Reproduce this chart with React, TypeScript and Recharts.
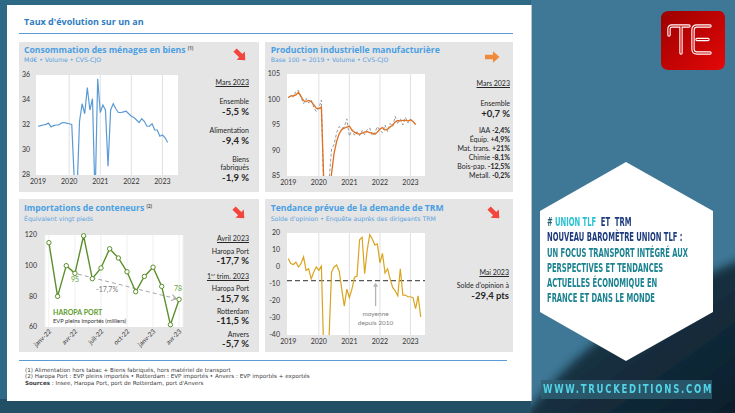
import React from "react";
import {
  LineChart,
  Line,
  XAxis,
  YAxis,
  CartesianGrid,
  ReferenceLine,
  ReferenceDot,
} from "recharts";

const W = 735;
const H = 413;
const FONT = 'Lato, "Open Sans", sans-serif';
const HEAD = '"Open Sans", Lato, sans-serif';
const WIDE = '"DejaVu Sans", Verdana, sans-serif';
const NARROW = '"Liberation Sans Narrow", "DejaVu Sans Condensed", sans-serif';

// ---------- data ----------
const yearLabels = ["2019", "2020", "2021", "2022", "2023"];
const yearTicks = [0, 12, 24, 36, 48];

// Consommation des ménages en biens, Md€, monthly from janv. 2019 to mars 2023
const consoValues = [
  31.9, 31.95, 32.0, 32.05, 32.15, 31.85, 31.95, 32.0, 32.0, 32.15, 32.2, 32.15,
  32.1, 32.05, 27.5, 26.5, 32.3, 33.7, 32.9, 35.0, 33.2, 34.1, 26.0, 35.7,
  33.0, 33.6, 33.2, 28.7, 33.2, 33.7, 33.3, 33.0, 33.0, 33.05, 33.1, 32.9,
  32.7, 32.6, 32.4, 32.2, 32.5, 32.3, 31.9, 31.9, 32.1, 31.6, 31.6, 31.1,
  31.2, 31.0, 30.6,
];

// Production industrielle manufacturière, base 100 = 2019
const prodValues = [
  100.4, 100.7, 100.7, 100.9, 101.4, 100.6, 99.8, 99.6, 99.8, 99.6, 99.0, 98.3,
  98.2, 98.5, 83, 70, 80, 85.5, 89.5, 91.8, 93.3, 94.1, 94.4, 94.6,
  94.8, 94.0, 93.6, 93.3, 93.2, 93.4, 93.6, 93.7, 93.5, 93.4, 93.2, 93.6,
  94.2, 94.5, 94.0, 94.2, 94.6, 95.0, 95.6, 95.9, 95.8, 95.9, 95.9, 95.8,
  96.0, 95.7, 95.1,
];
const prodRawValues = [
  100.3, 100.9, 100.5, 101.6, 101.8, 100.4, 99.2, 100.2, 99.3, 99.9, 98.5, 97.6,
  98.3, 99.9, 80, 68, 84, 90.3, 91.2, 93.5, 94.7, 94.3, 94.6, 96.2,
  92.8, 94.1, 93.0, 93.7, 92.9, 93.9, 93.1, 94.1, 94.4, 92.9, 93.5, 94.7,
  93.9, 93.5, 95.0, 93.7, 95.3, 94.7, 96.7, 95.2, 96.3, 95.0, 96.5, 95.4,
  96.2, 95.7, 95.0,
];

// Tendance prévue de la demande de TRM, solde d'opinion, janv. 2019 to mai 2023
const trmValues = [
  5, 2, 1.5, 2.8, 0, 2, 6, -2, -1, -7, -3, 0,
  -2, 0.5, -55, -70, -42, -3, 0, 1.2, -2.5, -13, -23, -13,
  -18, -13, -6, -5.5, 16, 17.5, -4, 10, 19, 16.5, 13, 13.5,
  2.5, 8, -3.5, -1, -7, -12, -14, -17, -1, -16.5, -16.5, -17.5,
  -17.5, -18, -24.5, -17, -29.4,
];
const trmAverage = -8;

// Importations de conteneurs, Haropa Port, EVP pleins importés (milliers)
const portMonths = [
  "janv-22", "févr-22", "mars-22", "avr-22", "mai-22", "juin-22", "juil-22", "août-22",
  "sept-22", "oct-22", "nov-22", "déc-22", "janv-23", "févr-23", "mars-23", "avr-23",
];
const portValues = [115, 80, 100, 95, 119.5, 91.5, 98.5, 111, 105, 96, 83, 93, 99, 86.5, 61.5, 78];
const portTicks = [0, 3, 6, 9, 12, 15];

const prodBreakdown = [
  ["IAA", "-2,4%"],
  ["Équip.", "+4,9%"],
  ["Mat. trans.", "+21%"],
  ["Chimie", "-8,1%"],
  ["Bois-pap.", "-12,5%"],
  ["Metall.", "-0,2%"],
];

const consoData = consoValues.map((v, i) => ({ m: i, v }));
const prodData = prodValues.map((v, i) => ({ m: i, v, raw: prodRawValues[i] }));
const trmData = trmValues.map((v, i) => ({ m: i, v }));
const portData = portValues.map((v, i) => ({ i, v }));

const tickStyle = { fontSize: 7, fill: "#333", fontFamily: FONT };

function Txt({ x, y, size = 7, bold = false, color = "#262626", right = false, underline = false, family = FONT, lh = 1.15, children, style = {} }: any) {
  const pos: any = right ? { right: W - x } : { left: x };
  return (
    <div
      style={{
        position: "absolute",
        top: y - (size * lh) / 2,
        ...pos,
        fontSize: size,
        lineHeight: `${size * lh}px`,
        fontWeight: bold ? 700 : 400,
        color,
        whiteSpace: "nowrap",
        textDecoration: underline ? "underline" : "none",
        fontFamily: family,
        ...style,
      }}
    >
      {children}
    </div>
  );
}

function Arrow({ cx, cy, angle, color }: any) {
  return (
    <svg style={{ position: "absolute", left: cx - 10, top: cy - 10 }} width={20} height={20}>
      <path
        d="M-7,-2.3 L1,-2.3 L1,-5.8 L7.5,0 L1,5.8 L1,2.3 L-7,2.3 Z"
        fill={color}
        transform={`translate(10,10) rotate(${angle})`}
      />
    </svg>
  );
}

function Box({ x, y, w, h }: any) {
  return <div style={{ position: "absolute", left: x, top: y, width: w, height: h, background: "#e5e5e5" }} />;
}

const PortTick = (props: any) => {
  const { x, y, payload } = props;
  return (
    <g transform={`translate(${x},${y})`}>
      <text x={0} y={0} dy={4} textAnchor="end" transform="rotate(-45)" fontSize={6.5} fill="#333" fontFamily={FONT}>
        {portMonths[payload.value]}
      </text>
    </g>
  );
};

function yearGrid() {
  return yearTicks.slice(1).map((t) => (
    <ReferenceLine key={t} x={t} stroke="#d9d9d9" strokeWidth={0.8} />
  ));
}

function ConsoChart() {
  return (
    <div style={{ position: "absolute", left: 11, top: 70 }}>
      <LineChart width={173} height={120} data={consoData} margin={{ top: 5, right: 6, left: 0, bottom: 0 }}>
        <CartesianGrid horizontal={false} vertical={false} fill="#fff" />
        <XAxis dataKey="m" type="number" domain={[-0.8, 54]} ticks={yearTicks} tickFormatter={(v) => yearLabels[v / 12]}
          allowDataOverflow axisLine={false} tickLine={false} tickSize={0} tickMargin={4} height={15} tick={tickStyle} />
        <YAxis domain={[28, 36]} ticks={[28, 30, 32, 34, 36]} allowDataOverflow width={25}
          axisLine={false} tickLine={false} tickSize={0} tickMargin={6} tick={tickStyle} />
        {yearGrid()}
        <Line dataKey="v" stroke="#5b9bd5" strokeWidth={1.2} dot={false} isAnimationActive={false} />
      </LineChart>
    </div>
  );
}

function ProdChart() {
  return (
    <div style={{ position: "absolute", left: 262, top: 69 }}>
      <LineChart width={163} height={122} data={prodData} margin={{ top: 5, right: 0, left: 0, bottom: 0 }}>
        <CartesianGrid horizontal={false} vertical={false} fill="#fff" />
        <XAxis dataKey="m" type="number" domain={[-0.5, 53.7]} ticks={yearTicks} tickFormatter={(v) => yearLabels[v / 12]}
          allowDataOverflow axisLine={false} tickLine={false} tickSize={0} tickMargin={4} height={15} tick={tickStyle} />
        <YAxis domain={[85, 105]} ticks={[85, 90, 95, 100, 105]} allowDataOverflow width={25}
          axisLine={false} tickLine={false} tickSize={0} tickMargin={7} tick={tickStyle} />
        {yearGrid()}
        <Line dataKey="raw" stroke="#9a9a9a" strokeWidth={1} strokeDasharray="3 2" dot={false} isAnimationActive={false} />
        <Line dataKey="v" stroke="#e06f1f" strokeWidth={1.3} dot={false} isAnimationActive={false} />
      </LineChart>
    </div>
  );
}

function TrmChart() {
  return (
    <div style={{ position: "absolute", left: 262, top: 228 }}>
      <LineChart width={163} height={122} data={trmData} margin={{ top: 5, right: 0, left: 0, bottom: 0 }}>
        <CartesianGrid horizontal={false} vertical={false} fill="#fff" />
        <XAxis dataKey="m" type="number" domain={[-0.5, 53.7]} ticks={yearTicks} tickFormatter={(v) => yearLabels[v / 12]}
          allowDataOverflow axisLine={false} tickLine={false} tickSize={0} tickMargin={4} height={15} tick={tickStyle} />
        <YAxis domain={[-40, 20]} ticks={[-40, -30, -20, -10, 0, 10, 20]} allowDataOverflow width={25}
          axisLine={false} tickLine={false} tickSize={0} tickMargin={7} tick={tickStyle} />
        {yearGrid()}
        <ReferenceLine y={trmAverage} stroke="#595959" strokeDasharray="5 3" strokeWidth={1.2} />
        <ReferenceLine segment={[{ x: 34.3, y: -23 }, { x: 34.3, y: -10 }]} stroke="#b3b3b3" strokeWidth={1.3} />
        <ReferenceDot x={34.3} y={-9.2} r={0} shape={(p: any) => (
          <path d={`M${p.cx - 2.5},${p.cy + 4} L${p.cx},${p.cy} L${p.cx + 2.5},${p.cy + 4} Z`} fill="#b3b3b3" />
        )} />
        <ReferenceDot x={34.3} y={-27.6} r={0} shape={(p: any) => (
          <text x={p.cx} y={p.cy} dy={2.3} textAnchor="middle" fontSize={6.5} fill="#7f7f7f" fontFamily={FONT}>moyenne</text>
        )} />
        <ReferenceDot x={34.3} y={-32.6} r={0} shape={(p: any) => (
          <text x={p.cx} y={p.cy} dy={2.3} textAnchor="middle" fontSize={6.5} fill="#7f7f7f" fontFamily={FONT}>depuis 2010</text>
        )} />
        <Line dataKey="v" stroke="#d9a520" strokeWidth={1.2} dot={false} isAnimationActive={false} />
      </LineChart>
    </div>
  );
}

function PortChart() {
  return (
    <div style={{ position: "absolute", left: 20, top: 230 }}>
      <LineChart width={168} height={122} data={portData} margin={{ top: 5, right: 5, left: 0, bottom: 0 }}>
        <CartesianGrid horizontal={false} stroke="#efefef" fill="#fff" />
        <XAxis dataKey="i" type="number" domain={[-0.45, 15.45]} ticks={portTicks} interval={0}
          axisLine={false} tickLine={false} tickSize={0} tickMargin={2} height={25} tick={<PortTick />} />
        <YAxis domain={[60, 120]} ticks={[60, 80, 100, 120]} width={25}
          axisLine={false} tickLine={false} tickSize={0} tickMargin={8} tick={tickStyle} />
        <ReferenceLine segment={[{ x: 3.35, y: 94.5 }, { x: 14.7, y: 78.4 }]} stroke="#a6a6a6" strokeDasharray="4 3" strokeWidth={1} />
        <ReferenceDot x={14.7} y={78.4} r={0} shape={(p: any) => (
          <polyline points="-5,-3 0,0 -5,3" transform={`translate(${p.cx},${p.cy}) rotate(14)`} fill="none" stroke="#a6a6a6" strokeWidth={1} />
        )} />
        <ReferenceDot x={6.7} y={84.1} r={0} shape={(p: any) => (
          <text x={p.cx} y={p.cy} dy={2.4} textAnchor="middle" fontSize={7} fill="#7a7a7a" fontFamily={FONT}>-17,7%</text>
        )} />
        <Line dataKey="v" stroke="#5b8f2a" strokeWidth={1.4} isAnimationActive={false}
          dot={{ r: 2.2, fill: "#fff", stroke: "#5b8f2a", strokeWidth: 1 }} />
        <ReferenceDot x={3} y={portValues[3]} r={0} shape={(p: any) => (
          <text x={p.cx} y={p.cy} dy={9} textAnchor="middle" fontSize={7} fill="#6aa33a" fontFamily={FONT}>{portValues[3]}</text>
        )} />
        <ReferenceDot x={15} y={portValues[15]} r={0} shape={(p: any) => (
          <text x={p.cx - 1} y={p.cy} dy={-8} textAnchor="middle" fontSize={7} fill="#6aa33a" fontFamily={FONT}>{portValues[15]}</text>
        )} />
      </LineChart>
    </div>
  );
}

function Background() {
  return (
    <svg style={{ position: "absolute", left: 0, top: 0 }} width={W} height={H}>
      <defs>
        <linearGradient id="wave" x1="0" y1="0" x2="1" y2="1">
          <stop offset="0" stopColor="#1f4358" />
          <stop offset="1" stopColor="#0b1c28" />
        </linearGradient>
        <linearGradient id="logo" x1="0" y1="0" x2="1" y2="1">
          <stop offset="0" stopColor="#9c0000" />
          <stop offset="1" stopColor="#e40808" />
        </linearGradient>
        <filter id="blur"><feGaussianBlur stdDeviation="5" /></filter>
      </defs>
      <rect x={0} y={0} width={W} height={H} fill="#3f7896" />
      <rect x={0} y={0} width={531} height={H} fill="#2d6884" />
      <path d="M520,420 C575,350 640,300 745,258 L745,420 Z" fill="url(#wave)" filter="url(#blur)" />
      <rect x={0} y={399} width={531} height={14} fill="#234f66" />
      <polygon points="626,162 713,211 713,312 626,361 540,312 540,211" fill="#fff" />
      <rect x={541} y={380} width={171} height={19} fill="#2f6274" opacity={0.8} />
      <path d="M669,11 L719,11 Q725,11 725,19 L725,62 Q725,70 717,70 L669,70 Q661,70 661,62 L661,19 Q661,11 669,11 Z" fill="url(#logo)" />
      <g fill="none" strokeLinecap="round" strokeLinejoin="round">
        <path d="M669,35 L669,29 Q669,26 672,26 L689,26 M681,26 L681,53 M710,26 L697,26 Q693,26 693,30 L693,49 Q693,53 697,53 L710,53 M697,39.5 L708,39.5"
          stroke="#fff" strokeWidth={3.4} />
        <path d="M669,35 L669,29 Q669,26 672,26 L689,26 M681,26 L681,53 M710,26 L697,26 Q693,26 693,30 L693,49 Q693,53 697,53 L710,53 M697,39.5 L708,39.5"
          stroke="#c80000" strokeWidth={1.2} />
      </g>
    </svg>
  );
}

const hexLine = (y: number, content: any) => (
  <div style={{
    position: "absolute", left: 547, top: y - 7, lineHeight: "14px", fontSize: 13, fontWeight: 700,
    fontFamily: NARROW, whiteSpace: "nowrap", transform: "scaleX(0.58)", transformOrigin: "left center",
  }}>{content}</div>
);

const sup = { fontSize: 4.5, color: "#555", verticalAlign: 3, lineHeight: 0 };

export default function App() {
  return (
    <div style={{ position: "absolute", left: 0, top: 0, width: W, height: H, overflow: "hidden", fontFamily: FONT }}>
      <Background />
      <div style={{ position: "absolute", left: 7, top: 5, width: 524, height: 396, background: "#fff", borderRight: "1px solid #b9c4ca" }} />

      <Txt x={24} y={22} size={9} bold color="#2f7cc1" family={HEAD}>Taux d'évolution sur un an</Txt>
      <div style={{ position: "absolute", left: 19, top: 32.5, width: 494, height: 1.5, background: "#5b9bd5" }} />

      <Box x={19} y={42} w={240} h={150} />
      <Box x={265} y={42} w={248} h={150} />
      <Box x={19} y={199} w={240} h={153} />
      <Box x={265} y={199} w={248} h={153} />

      {/* panel 1 */}
      <Txt x={24} y={50.3} size={8.6} bold color="#4a9fe3" family={HEAD} lh={1}>
        Consommation des ménages en biens <span style={sup}>(1)</span>
      </Txt>
      <Txt x={24} y={60.5} size={6.2} color="#5ba3e0" family={WIDE} lh={1}>Md€ • Volume • CVS-CJO</Txt>
      <Arrow cx={240} cy={55} angle={45} color="#f2453d" />
      <ConsoChart />
      <Txt x={249} y={82} right underline>Mars 2023</Txt>
      <Txt x={249} y={100.7} right>Ensemble</Txt>
      <Txt x={249} y={111.7} right bold size={9.5} lh={1}>-5,5 %</Txt>
      <Txt x={249} y={130} right>Alimentation</Txt>
      <Txt x={249} y={140.3} right bold size={9.5} lh={1}>-9,4 %</Txt>
      <Txt x={249} y={159} right lh={1}>Biens</Txt>
      <Txt x={249} y={167.3} right lh={1}>fabriqués</Txt>
      <Txt x={249} y={177.7} right bold size={9.5} lh={1}>-1,9 %</Txt>

      {/* panel 2 */}
      <Txt x={270.7} y={50.3} size={8.6} bold color="#4a9fe3" family={HEAD} lh={1}>Production industrielle manufacturière</Txt>
      <Txt x={270.7} y={60.5} size={6.2} color="#5ba3e0" family={WIDE} lh={1}>Base 100 = 2019 • Volume • CVS-CJO</Txt>
      <Arrow cx={492} cy={57} angle={0} color="#f08a3a" />
      <ProdChart />
      <Txt x={510} y={83.3} right underline>Mars 2023</Txt>
      <Txt x={510} y={103.3} right>Ensemble</Txt>
      <Txt x={510} y={113.5} right bold size={9.5} lh={1}>+0,7 %</Txt>
      {prodBreakdown.map(([k, v], i) => (
        <Txt key={k} x={510} y={131 + i * 9} right lh={1.1}>
          {k} <b>{v}</b>
        </Txt>
      ))}

      {/* panel 3 */}
      <Txt x={24} y={208.3} size={8.6} bold color="#4a9fe3" family={HEAD} lh={1}>
        Importations de conteneurs <span style={sup}>(2)</span>
      </Txt>
      <Txt x={24} y={219.2} size={6.2} color="#5ba3e0" family={WIDE} lh={1}>Équivalent vingt pieds</Txt>
      <Arrow cx={239} cy={213} angle={45} color="#f2453d" />
      <PortChart />
      <Txt x={53} y={312} size={7} bold color="#5e9d2e" lh={1}>HAROPA PORT</Txt>
      <Txt x={53} y={320.5} size={5.8} color="#333" lh={1}>EVP pleins importés (milliers)</Txt>
      <Txt x={249} y={238.3} right underline>Avril 2023</Txt>
      <Txt x={249} y={250.7} right>Haropa Port</Txt>
      <Txt x={249} y={260.7} right bold size={9.5} lh={1}>-17,7 %</Txt>
      <Txt x={249} y={276} right underline>1<sup style={{ fontSize: 4.5, lineHeight: 0 }}>er</sup> trim. 2023</Txt>
      <Txt x={249} y={288.3} right>Haropa Port</Txt>
      <Txt x={249} y={298.3} right bold size={9.5} lh={1}>-15,7 %</Txt>
      <Txt x={249} y={310.7} right>Rotterdam</Txt>
      <Txt x={249} y={320.5} right bold size={9.5} lh={1}>-11,5 %</Txt>
      <Txt x={249} y={334} right>Anvers</Txt>
      <Txt x={249} y={344} right bold size={9.5} lh={1}>-5,7 %</Txt>

      {/* panel 4 */}
      <Txt x={270.7} y={208.3} size={8.6} bold color="#4a9fe3" family={HEAD} lh={1}>Tendance prévue de la demande de TRM</Txt>
      <Txt x={270.7} y={219.2} size={6.2} color="#5ba3e0" family={WIDE} lh={1}>Solde d'opinion • Enquête auprès des dirigeants TRM</Txt>
      <Arrow cx={494} cy={213} angle={45} color="#f2453d" />
      <TrmChart />
      <Txt x={509} y={271.7} right underline>Mai 2023</Txt>
      <Txt x={509} y={285} right>Solde d'opinion à</Txt>
      <Txt x={509} y={295.7} right bold size={9.5} lh={1}>-29,4 pts</Txt>

      {/* footnotes */}
      <div style={{ position: "absolute", left: 19, top: 359.7, width: 488, height: 1.5, background: "#5b9bd5" }} />
      <Txt x={25} y={371} size={5.6} color="#404040" family={WIDE} lh={1}>(1) Alimentation hors tabac + Biens fabriqués, hors matériel de transport</Txt>
      <Txt x={25} y={377.2} size={5.6} color="#404040" family={WIDE} lh={1}>(2) Haropa Port : EVP pleins importés  •  Rotterdam : EVP importés  •  Anvers : EVP importés + exportés</Txt>
      <Txt x={25} y={383.4} size={5.6} color="#404040" family={WIDE} lh={1}><b>Sources</b> : Insee, Haropa Port, port de Rotterdam, port d'Anvers</Txt>

      {/* right side */}
      {hexLine(221.5, <><span style={{ color: "#1f5f78" }}># </span><span style={{ color: "#29c1d3" }}>UNION TLF</span><span style={{ color: "#1c3a7c" }}>&nbsp; ET &nbsp;TRM</span></>)}
      {hexLine(237, <span style={{ color: "#1c3a7c" }}>NOUVEAU BAROMÈTRE UNION TLF :</span>)}
      {hexLine(252.5, <span style={{ color: "#1b8290" }}>UN FOCUS TRANSPORT INTÉGRÉ AUX</span>)}
      {hexLine(267.5, <span style={{ color: "#1b8290" }}>PERSPECTIVES ET TENDANCES</span>)}
      {hexLine(283, <span style={{ color: "#1b8290" }}>ACTUELLES ÉCONOMIQUE EN</span>)}
      {hexLine(297.5, <span style={{ color: "#1b8290" }}>FRANCE ET DANS LE MONDE</span>)}
      <div style={{
        position: "absolute", left: 543, top: 382, lineHeight: "15px", fontSize: 12, fontWeight: 700,
        fontFamily: NARROW, color: "#52d4e6", letterSpacing: 2.2, whiteSpace: "nowrap",
        transform: "scaleX(0.79)", transformOrigin: "left center",
      }}>WWW.TRUCKEDITIONS.COM</div>
    </div>
  );
}
